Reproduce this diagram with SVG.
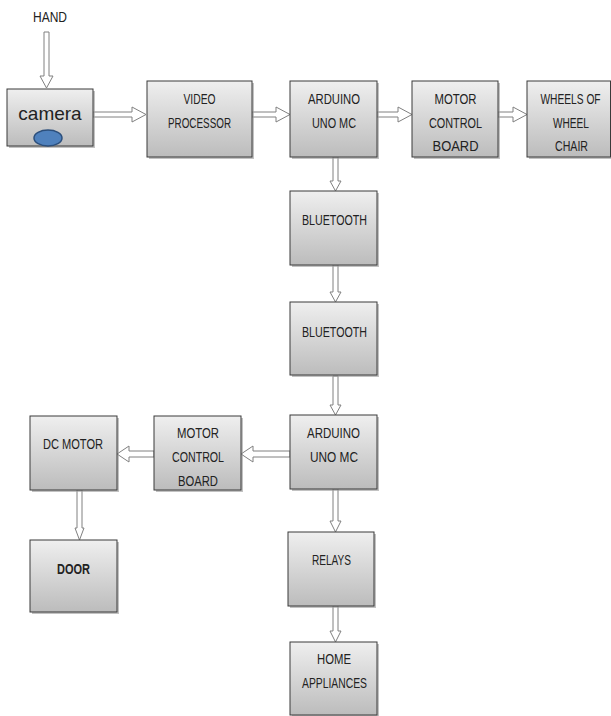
<svg xmlns="http://www.w3.org/2000/svg" width="611" height="716" viewBox="0 0 611 716">
<style>
.box{fill:url(#g);stroke:#3a3a3a;stroke-width:1}
.sh{fill:#9a9a9a;opacity:0.6}
.t{font-family:"Liberation Sans",Arial,sans-serif;font-size:14px;fill:#222;text-anchor:middle}
.ar{fill:#fff;stroke:#808080;stroke-width:1}
</style>
<defs>
<linearGradient id="g" x1="0" y1="0" x2="0" y2="1">
<stop offset="0" stop-color="#efefef"/>
<stop offset="1" stop-color="#bcbcbc"/>
</linearGradient>
<clipPath id="c2"><rect x="154" y="416" width="87" height="73"/></clipPath>
</defs>
<rect width="611" height="716" fill="#fff"/>
<g id="connectors">
<polygon class="ar" points="44,32 49,32 49,76 53,76 46.5,88 40,76 44,76"/>
<polygon class="ar" points="93,112 132,112 132,107 146,114.5 132,122 132,117 93,117"/>
<polygon class="ar" points="252,112 276,112 276,107 290,114.5 276,122 276,117 252,117"/>
<polygon class="ar" points="377,112 398,112 398,107 412,114.5 398,122 398,117 377,117"/>
<polygon class="ar" points="498,112 513,112 513,107 527,114.5 513,122 513,117 498,117"/>
<polygon class="ar" points="333,157 338,157 338,181 341,181 335.5,191 330,181 333,181"/>
<polygon class="ar" points="333,265 338,265 338,292 341,292 335.5,302 330,292 333,292"/>
<polygon class="ar" points="333,376 338,376 338,405 341,405 335.5,415 330,405 333,405"/>
<polygon class="ar" points="290,451 253,451 253,446 241,454 253,462 253,457 290,457"/>
<polygon class="ar" points="154,451 129,451 129,446 117,454 129,462 129,457 154,457"/>
<polygon class="ar" points="77,490 82,490 82,528 84,528 79.5,540 75,528 77,528"/>
<polygon class="ar" points="333,489 338,489 338,521 341,521 335.5,532 330,521 333,521"/>
<polygon class="ar" points="333,606 338,606 338,631 341,631 335.5,642 330,631 333,631"/>
</g>
<g id="hand"><text class="t" x="50" y="22" textLength="34" lengthAdjust="spacingAndGlyphs">HAND</text></g>
<g id="camera">
<rect class="sh" x="9" y="91" width="86" height="57"/>
<rect class="box" x="7" y="89" width="86" height="57"/>
<text x="50" y="120" font-family="Liberation Sans,Arial,sans-serif" font-size="19" fill="#222" text-anchor="middle">camera</text>
<ellipse cx="48" cy="138" rx="14" ry="8" fill="#4f81bd" stroke="#2c4f7c" stroke-width="1.5"/>
</g>
<g id="video">
<rect class="sh" x="149" y="83" width="105" height="76"/>
<rect class="box" x="147" y="81" width="105" height="76"/>
<text class="t" x="199.5" y="104" textLength="32" lengthAdjust="spacingAndGlyphs">VIDEO</text>
<text class="t" x="199.5" y="128" textLength="63" lengthAdjust="spacingAndGlyphs">PROCESSOR</text>
</g>
<g id="arduino1">
<rect class="sh" x="292" y="83" width="87" height="76"/>
<rect class="box" x="290" y="81" width="87" height="76"/>
<text class="t" x="334" y="104" textLength="52" lengthAdjust="spacingAndGlyphs">ARDUINO</text>
<text class="t" x="334" y="128" textLength="44" lengthAdjust="spacingAndGlyphs">UNO MC</text>
</g>
<g id="mcb1">
<rect class="sh" x="414" y="83" width="86" height="76"/>
<rect class="box" x="412" y="81" width="86" height="76"/>
<text class="t" x="455.5" y="104" textLength="42" lengthAdjust="spacingAndGlyphs">MOTOR</text>
<text class="t" x="455.5" y="128" textLength="53" lengthAdjust="spacingAndGlyphs">CONTROL</text>
<text class="t" x="455.5" y="151" textLength="46" lengthAdjust="spacingAndGlyphs">BOARD</text>
</g>
<g id="wheels">
<rect class="sh" x="529" y="83" width="82" height="76"/>
<rect class="box" x="527" y="81" width="83.5" height="76"/>
<text class="t" transform="translate(570.5 104) scale(0.73 1)" x="0" y="0">WHEELS OF</text>
<text class="t" x="571" y="128" textLength="36" lengthAdjust="spacingAndGlyphs">WHEEL</text>
<text class="t" x="571.5" y="151" textLength="33" lengthAdjust="spacingAndGlyphs">CHAIR</text>
</g>
<g id="bt1">
<rect class="sh" x="292" y="193" width="87" height="74"/>
<rect class="box" x="290" y="191" width="87" height="74"/>
<text class="t" x="334.5" y="225" textLength="65" lengthAdjust="spacingAndGlyphs">BLUETOOTH</text>
</g>
<g id="bt2">
<rect class="sh" x="292" y="304" width="87" height="73"/>
<rect class="box" x="290" y="302" width="87" height="73"/>
<text class="t" x="334.5" y="337" textLength="65" lengthAdjust="spacingAndGlyphs">BLUETOOTH</text>
</g>
<g id="arduino2">
<rect class="sh" x="292" y="417" width="87" height="74"/>
<rect class="box" x="290" y="415" width="87" height="74"/>
<text class="t" x="333.5" y="438" textLength="53" lengthAdjust="spacingAndGlyphs">ARDUINO</text>
<text class="t" x="334" y="462" textLength="48" lengthAdjust="spacingAndGlyphs">UNO MC</text>
</g>
<g id="mcb2">
<rect class="sh" x="156" y="418" width="87" height="74"/>
<rect class="box" x="154" y="416" width="87" height="74"/>
<text class="t" x="198" y="438" textLength="42" lengthAdjust="spacingAndGlyphs">MOTOR</text>
<text class="t" x="198" y="462" textLength="52" lengthAdjust="spacingAndGlyphs">CONTROL</text>
<text class="t" x="198" y="486" clip-path="url(#c2)" textLength="40" lengthAdjust="spacingAndGlyphs">BOARD</text>
</g>
<g id="dcmotor">
<rect class="sh" x="32" y="418" width="87" height="74"/>
<rect class="box" x="30" y="416" width="87" height="74"/>
<text class="t" x="73" y="449" textLength="60" lengthAdjust="spacingAndGlyphs">DC MOTOR</text>
</g>
<g id="door">
<rect class="sh" x="32" y="542" width="87" height="72"/>
<rect class="box" x="30" y="540" width="87" height="72"/>
<text class="t" x="73.5" y="574" font-weight="bold" textLength="33" lengthAdjust="spacingAndGlyphs">DOOR</text>
</g>
<g id="relays">
<rect class="sh" x="290" y="534" width="86" height="74"/>
<rect class="box" x="288" y="532" width="86" height="74"/>
<text class="t" x="331.5" y="565" textLength="39" lengthAdjust="spacingAndGlyphs">RELAYS</text>
</g>
<g id="home">
<rect class="sh" x="292" y="644" width="87" height="72"/>
<rect class="box" x="290" y="642" width="87" height="73"/>
<text class="t" x="334" y="664" textLength="34" lengthAdjust="spacingAndGlyphs">HOME</text>
<text class="t" x="334.5" y="688" textLength="65" lengthAdjust="spacingAndGlyphs">APPLIANCES</text>
</g>
</svg>
